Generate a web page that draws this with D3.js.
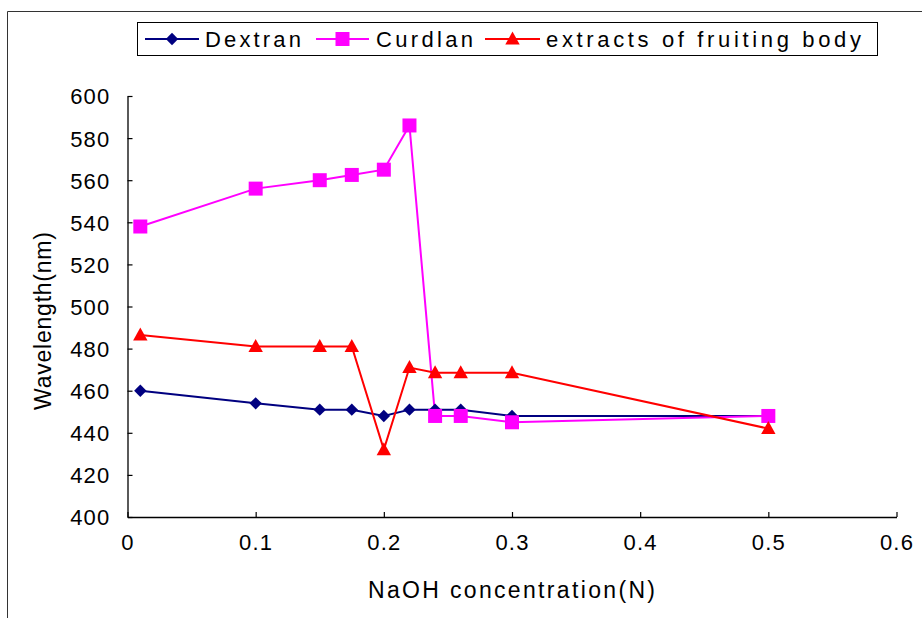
<!DOCTYPE html>
<html><head><meta charset="utf-8">
<script src="https://cdn.jsdelivr.net/npm/d3@7"></script>
<style>body{margin:0;background:#fff}svg{display:block;font-family:"Liberation Sans",Arial,sans-serif}</style>
</head><body><svg id="c" width="922" height="618"></svg>
<script>
const concentrations = [0.01, 0.1, 0.15, 0.175, 0.2, 0.22, 0.24, 0.26, 0.3, 0.5];
const dextran = [460, 454, 451, 451, 448, 451, 451, 451, 448, 448];
const curdlan = [538, 556, 560, 562.5, 565, 586, 448, 448, 445, 448];
const extracts = [486.5, 481, 481, 481, 432, 471, 468.5, 468.5, 468.5, 442];
const seriesNames = ["Dextran", "Curdlan", "extracts of fruiting body"];
const xTicks = [0, 0.1, 0.2, 0.3, 0.4, 0.5, 0.6];
const yTicks = [400, 420, 440, 460, 480, 500, 520, 540, 560, 580, 600];

const svg = d3.select("#c");
const x = d3.scaleLinear().domain([0, 0.6]).range([127.5, 896.5]);
const y = d3.scaleLinear().domain([400, 600]).range([517, 96]);

// outer frame
svg.append("path").attr("d","M7.5,618 V11.5 H922").attr("fill","none").attr("stroke","#333").attr("stroke-width",1);

// axes
const xa = svg.append("g").attr("transform","translate(0,517)")
  .call(d3.axisBottom(x).tickValues(xTicks).tickSize(-5).tickSizeOuter(0).tickFormat(d=>d3.format("")(d)).tickPadding(14));
const ya = svg.append("g").attr("transform","translate(127.5,0)")
  .call(d3.axisLeft(y).tickValues(yTicks).tickSize(-5).tickSizeOuter(0).tickPadding(17));
[xa, ya].forEach(a=>{
  a.select(".domain").attr("stroke","#000").attr("stroke-width",1.3);
  a.selectAll(".tick line").attr("stroke","#000").attr("stroke-width",1.2);
  a.selectAll(".tick text").attr("font-size",22).attr("fill","#000").attr("font-family","Liberation Sans, Arial, sans-serif").style("letter-spacing","1.2px");
});
xa.selectAll(".tick text").attr("dy","0.85em");
ya.selectAll(".tick text").attr("dy","0.36em");

svg.append("text").attr("x",511.5).attr("y",598).attr("text-anchor","middle").attr("font-size",23).attr("textLength",287).attr("lengthAdjust","spacing").text("NaOH concentration(N)");
svg.append("text").attr("transform","translate(51,321) rotate(-90)").attr("text-anchor","middle").attr("font-size",23).attr("textLength",178).attr("lengthAdjust","spacing").text("Wavelength(nm)");

const colors = ["#000080", "#FF00FF", "#FF0000"];
const shapePaths = [
  "M0,-6.2L6.2,0L0,6.2L-6.2,0Z",
  "M-7,-7H7V7H-7Z",
  "M0,-7.5L7.2,5.5H-7.2Z"
];
const data = [dextran, curdlan, extracts];

const line = d3.line().x(d=>x(d[0])).y(d=>y(d[1]));
data.forEach((vals,i)=>{
  const pts = concentrations.map((c,j)=>[c, vals[j]]);
  svg.append("path").datum(pts).attr("d",line).attr("fill","none").attr("stroke",colors[i]).attr("stroke-width",2);
});
data.forEach((vals,i)=>{
  const pts = concentrations.map((c,j)=>[c, vals[j]]);
  svg.append("g").selectAll("path").data(pts).join("path")
    .attr("transform",d=>`translate(${x(d[0])},${y(d[1])})`)
    .attr("d", shapePaths[i])
    .attr("fill",colors[i]);
});

// legend
const lg = svg.append("g");
lg.append("rect").attr("x",137.5).attr("y",22.5).attr("width",740).attr("height",33).attr("fill","#fff").attr("stroke","#000").attr("stroke-width",1);
const legX = [[145,199,205,96],[316,369,376,97],[485,540,546,315]];
legX.forEach((p,i)=>{
  lg.append("line").attr("x1",p[0]).attr("x2",p[1]).attr("y1",39).attr("y2",39).attr("stroke",colors[i]).attr("stroke-width",2);
  lg.append("path").attr("transform",`translate(${(p[0]+p[1])/2},39)`).attr("d",shapePaths[i]).attr("fill",colors[i]);
  lg.append("text").attr("x",p[2]).attr("y",47).attr("font-size",22).attr("textLength",p[3]).attr("lengthAdjust","spacing").text(seriesNames[i]);
});
</script></body></html>
